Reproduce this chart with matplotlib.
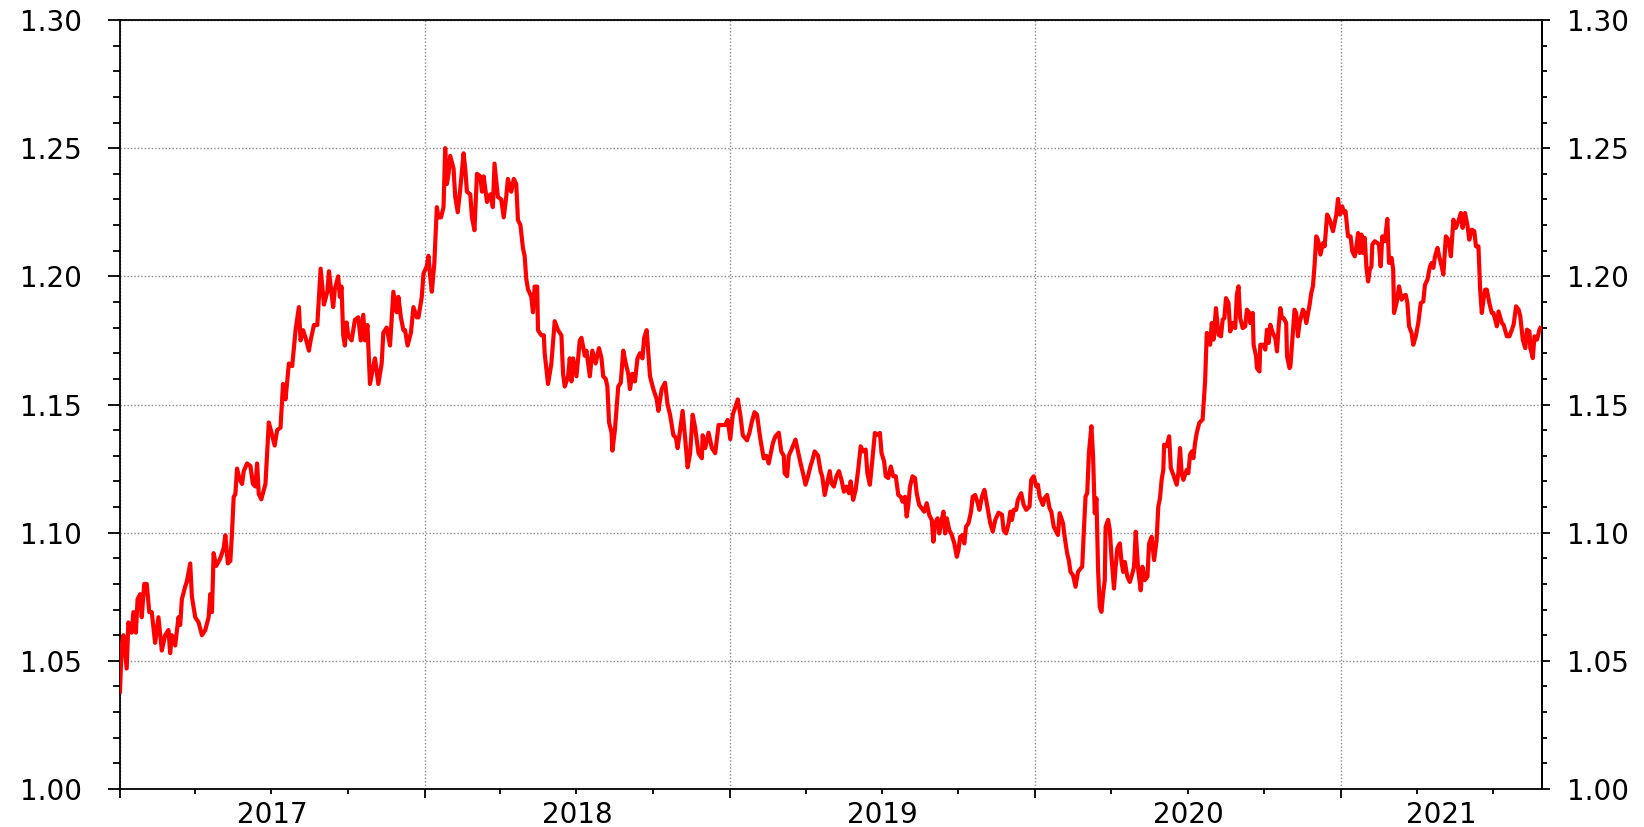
import numpy as np
import matplotlib
matplotlib.use("Agg")
import matplotlib.pyplot as plt
import matplotlib.dates as mdates
from matplotlib.ticker import MultipleLocator, FormatStrFormatter, NullFormatter

# Days since 2017-01-01 and EUR/USD-like rate
days = [
    0, 2, 4, 8, 10, 14, 16, 19, 21, 24, 26, 29, 32, 35, 38, 42, 46, 50, 54, 58,
    60, 62, 66, 70, 72, 74, 78, 80, 84, 86, 90, 94, 98, 102, 106, 108, 110, 112, 115, 120,
    124, 126, 129, 132, 134, 136, 138, 140, 143, 146, 148, 152, 156, 159, 162, 164, 166, 169, 174, 178,
    182, 185, 188, 192, 195, 198, 202, 206, 210, 214, 216, 219, 222, 226, 228, 232, 236, 240, 244, 248,
    250,
    255, 257, 261, 263, 265, 267, 269, 271, 273, 277, 281, 285, 288, 291, 293, 296, 299, 303, 305, 309,
    313, 315, 319, 323, 327, 331, 333, 336, 339, 341, 344, 348, 351, 355, 357, 361, 363, 367, 369, 371,
    373, 376, 379, 381, 384, 387, 389, 391, 393, 395, 399, 401, 404, 407, 411, 413, 415, 419, 421, 424,
    427, 431, 433, 435, 439, 443, 446, 448, 452, 456, 459, 462, 464, 468, 471, 474, 476, 479, 482, 484,
    486, 488, 492, 494, 496, 499, 500, 504, 507, 508, 512,
    516, 520, 524, 528, 530, 532, 536, 538, 540, 542, 546, 550, 552, 556, 558, 562, 565, 569, 573, 576,
    578, 581, 583, 585, 588, 589, 592, 596, 599, 602, 605, 608, 610, 613, 616, 619, 622, 625, 627, 630,
    634, 638, 642, 644, 648, 652, 655, 658, 662, 665, 667, 670, 673, 676, 679, 682, 685, 688, 692, 696,
    697, 700, 704, 708, 712, 716, 720, 724, 727, 730, 733, 736, 739, 742, 745, 750, 753, 756, 759, 762,
    766, 770, 773, 776,
    781, 784, 788, 791, 794, 795, 798, 800, 804, 808, 811, 814, 817, 820, 823, 826, 828, 831, 835, 838,
    840, 843, 846, 849, 851, 854, 857, 860, 863, 866, 869, 872, 874, 877, 880, 883, 886, 889, 892, 894,
    897, 900, 903, 906, 909, 911, 914, 916, 919, 922, 925, 928, 931, 934, 936, 939, 941, 943, 945, 948,
    951, 953, 956, 959, 962, 965, 968, 971, 973, 975, 978, 980, 983, 985, 987, 989, 992, 995, 998, 1001,
    1003, 1005, 1008, 1010, 1012, 1015, 1018, 1020, 1023, 1026, 1028, 1031, 1034,
    1041, 1044, 1047, 1051, 1055, 1057, 1060, 1063, 1065, 1067, 1069, 1072, 1074, 1078, 1081, 1084, 1088, 1090, 1093, 1096,
    1098, 1100, 1104, 1106, 1109, 1112, 1114, 1117, 1120, 1122, 1124, 1128, 1130, 1133, 1135, 1137, 1140, 1143, 1146, 1149,
    1151, 1153, 1155, 1157, 1159, 1162, 1164, 1166, 1168, 1170, 1172, 1174, 1176, 1178, 1179, 1182, 1184, 1186, 1189, 1191,
    1193, 1196, 1198, 1200, 1202, 1205, 1208, 1211, 1213, 1215, 1218, 1221, 1223, 1226, 1229, 1231, 1234, 1237, 1240, 1242,
    1244, 1246, 1248, 1249, 1252, 1255, 1257, 1260, 1264, 1266, 1268, 1270, 1272, 1276, 1278, 1280, 1282, 1284, 1286, 1288,
    1291, 1293, 1295,
    1298, 1300, 1302, 1304, 1306, 1308, 1311, 1314, 1317, 1319, 1321, 1323, 1326, 1328, 1331, 1334, 1336, 1338, 1340, 1343,
    1346, 1348, 1351, 1352, 1355, 1356, 1359, 1360, 1363, 1364, 1368, 1370, 1372, 1374, 1376, 1379, 1382, 1384, 1386, 1388,
    1390, 1392, 1395, 1396, 1399, 1400, 1403, 1405, 1407, 1409, 1411, 1415, 1417, 1419, 1423, 1425, 1427, 1429, 1431, 1433,
    1436, 1439, 1441, 1444, 1447, 1451, 1453, 1455, 1457, 1459, 1462, 1464, 1466, 1469, 1472, 1474, 1477, 1479, 1481, 1483,
    1485, 1487, 1489, 1491, 1493, 1495, 1497, 1498, 1501, 1504, 1506, 1508, 1510, 1513, 1516, 1518, 1521, 1523, 1524, 1527,
    1530,
    1533, 1535, 1538, 1540, 1542, 1545, 1547, 1550, 1553, 1556, 1559, 1561, 1564, 1567, 1569, 1571, 1573, 1576, 1578, 1581,
    1583, 1586, 1589, 1592, 1595, 1598, 1601, 1604, 1606, 1609, 1612, 1614, 1617, 1620, 1622, 1625, 1627, 1629, 1631, 1633,
    1635, 1638, 1641, 1643, 1647, 1649, 1653, 1655, 1659, 1662, 1665, 1667, 1670, 1673, 1675, 1678, 1681, 1683, 1686, 1687,
    1690, 1692, 1695, 1698, 1699,
]
rate = [
    1.038, 1.056, 1.060, 1.047, 1.065, 1.061, 1.069, 1.061, 1.074, 1.076, 1.067, 1.080, 1.080, 1.069, 1.069, 1.057, 1.067, 1.054, 1.060, 1.062,
    1.053, 1.060, 1.056, 1.067, 1.064, 1.074, 1.079, 1.081, 1.088, 1.075, 1.067, 1.065, 1.060, 1.062, 1.067, 1.076, 1.069, 1.092, 1.087, 1.090,
    1.094, 1.099, 1.088, 1.089, 1.100, 1.114, 1.115, 1.125, 1.121, 1.119, 1.124, 1.127, 1.126, 1.119, 1.118, 1.127, 1.115, 1.113, 1.119, 1.143,
    1.138, 1.134, 1.140, 1.141, 1.158, 1.152, 1.166, 1.165, 1.179, 1.188, 1.175, 1.179, 1.176, 1.171, 1.175, 1.181, 1.181, 1.203, 1.189, 1.194,
    1.202,
    1.188, 1.195, 1.200, 1.192, 1.196, 1.177, 1.173, 1.182, 1.177, 1.175, 1.183, 1.184, 1.175, 1.185, 1.175, 1.181, 1.158, 1.165, 1.168, 1.158,
    1.166, 1.178, 1.180, 1.173, 1.194, 1.186, 1.192, 1.184, 1.179, 1.179, 1.173, 1.178, 1.188, 1.184, 1.184, 1.192, 1.201, 1.204, 1.208, 1.200,
    1.194, 1.205, 1.227, 1.223, 1.223, 1.227, 1.250, 1.236, 1.240, 1.247, 1.242, 1.231, 1.225, 1.234, 1.248, 1.242, 1.233, 1.232, 1.223, 1.218,
    1.240, 1.239, 1.233, 1.239, 1.229, 1.232, 1.227, 1.244, 1.231, 1.230, 1.223, 1.231, 1.238, 1.233, 1.238, 1.236, 1.222, 1.220, 1.211, 1.208,
    1.199, 1.195, 1.192, 1.186, 1.196, 1.196, 1.179, 1.177, 1.177, 1.170, 1.158,
    1.166, 1.1825, 1.179, 1.177, 1.162, 1.157, 1.161, 1.168, 1.159, 1.168, 1.161, 1.175, 1.176, 1.169, 1.171, 1.161, 1.171, 1.166, 1.172, 1.168,
    1.161, 1.160, 1.157, 1.143, 1.139, 1.132, 1.140, 1.157, 1.1585, 1.171, 1.166, 1.162, 1.156, 1.162, 1.159, 1.168, 1.170, 1.168, 1.176, 1.179,
    1.161, 1.156, 1.152, 1.1475, 1.156, 1.1585, 1.150, 1.146, 1.138, 1.137, 1.133, 1.140, 1.1475, 1.137, 1.1255, 1.131, 1.146, 1.141, 1.131, 1.129,
    1.138, 1.133, 1.139, 1.133, 1.131, 1.142, 1.142, 1.142, 1.144, 1.1365, 1.146, 1.149, 1.152, 1.146, 1.138, 1.136, 1.139, 1.1435, 1.147, 1.146,
    1.1365, 1.129, 1.130, 1.127,
    1.135, 1.1376, 1.139, 1.1317, 1.130, 1.1232, 1.122, 1.130, 1.133, 1.1363, 1.1317, 1.1272, 1.1232, 1.1187, 1.122, 1.126, 1.128, 1.1317, 1.130, 1.124,
    1.122, 1.1147, 1.1193, 1.124, 1.1193, 1.118, 1.122, 1.124, 1.1206, 1.116, 1.118, 1.1154, 1.120, 1.1128, 1.1167, 1.1245, 1.1337, 1.1317, 1.1324, 1.1232,
    1.1187, 1.1285, 1.1389, 1.1382, 1.1389, 1.131, 1.1278, 1.122, 1.1213, 1.1258, 1.122, 1.122, 1.1147, 1.114, 1.1121, 1.114, 1.1063, 1.1108, 1.118, 1.122,
    1.1213, 1.1154, 1.1108, 1.1095, 1.1082, 1.1115, 1.1069, 1.105, 1.0965, 1.1037, 1.1056, 1.0997, 1.105, 1.1082, 1.0997, 1.1056, 1.101, 1.0991, 1.0958, 1.0906,
    1.0932, 1.0984, 1.0991, 1.0958, 1.1023, 1.1037, 1.1082, 1.114, 1.1147, 1.1115, 1.1089, 1.114, 1.1167,
    1.1037, 1.1004, 1.105, 1.1078, 1.107, 1.101, 1.0997, 1.1037, 1.1082, 1.105, 1.1089, 1.1089, 1.1128, 1.1154, 1.1108, 1.1089, 1.1102, 1.1206, 1.122, 1.118,
    1.1187, 1.1141, 1.1108, 1.1134, 1.1147, 1.1095, 1.1082, 1.1023, 1.1004, 1.0991, 1.1076, 1.1037, 1.0984, 1.0919, 1.0893, 1.0847, 1.0834, 1.0789, 1.0847, 1.086,
    1.0867, 1.101, 1.1141, 1.1154, 1.1311, 1.1415, 1.1298, 1.1076, 1.1134, 1.0854, 1.071, 1.0691, 1.0762, 1.0815, 1.1023, 1.105, 1.101, 1.0906, 1.0782, 1.0867,
    1.0939, 1.0958, 1.0886, 1.0847, 1.0886, 1.0828, 1.0808, 1.0841, 1.0867, 1.1004, 1.0854, 1.0775, 1.0867, 1.0815, 1.0828, 1.0958, 1.0984, 1.0893, 1.0971, 1.1102,
    1.1134, 1.1206, 1.1245, 1.1343, 1.1337, 1.1376, 1.1252, 1.1226, 1.1187, 1.1232, 1.133, 1.1232, 1.1206, 1.1245, 1.1232, 1.1304, 1.1317, 1.1291, 1.135, 1.1389,
    1.1428, 1.1435, 1.1441,
    1.159, 1.1779, 1.1772, 1.1733, 1.1818, 1.1753, 1.1876, 1.1772, 1.1766, 1.1831, 1.1837, 1.1915, 1.1896, 1.1785, 1.1818, 1.1798, 1.1928, 1.1961, 1.1837, 1.1798,
    1.1805, 1.187, 1.1857, 1.1818, 1.1857, 1.1733, 1.1688, 1.1642, 1.1629, 1.1733, 1.1733, 1.1714, 1.1792, 1.174, 1.1811, 1.1779, 1.1759, 1.1707, 1.1805, 1.1876,
    1.1837, 1.1837, 1.1818, 1.1688, 1.1642, 1.1648, 1.1779, 1.187, 1.1857, 1.1766, 1.1818, 1.187, 1.1857, 1.1818, 1.1889, 1.1935, 1.1961, 1.2046, 1.2156, 1.2143,
    1.2085, 1.213, 1.2117, 1.2241, 1.2221, 1.2176, 1.2208, 1.2241, 1.2302, 1.2241, 1.2273, 1.2247, 1.2254, 1.2156, 1.2156, 1.2098, 1.2078, 1.2117, 1.2169, 1.2091,
    1.2163, 1.2091, 1.215, 1.2033, 1.198, 1.2026, 1.2039, 1.2124, 1.2137, 1.213, 1.2124, 1.2039, 1.2156, 1.2137, 1.2224, 1.2052, 1.2072, 1.2026, 1.1857, 1.1896,
    1.1961,
    1.1909, 1.1922, 1.1928, 1.1896, 1.1805, 1.1779, 1.1733, 1.1766, 1.1818, 1.1896, 1.1902, 1.1967, 1.1987, 1.2039, 1.2052, 1.2033, 1.2078, 1.2111, 1.2078, 1.2039,
    1.2007, 1.2156, 1.2143, 1.2078, 1.2221, 1.2189, 1.2215, 1.2247, 1.2189, 1.2247, 1.2195, 1.2143, 1.2182, 1.2176, 1.2117, 1.2117, 1.1948, 1.1857, 1.1909, 1.1948,
    1.1948, 1.1896, 1.1857, 1.1857, 1.1805, 1.1863, 1.1818, 1.1811, 1.1766, 1.1766, 1.1792, 1.1811, 1.1883, 1.187, 1.1844, 1.1753, 1.172, 1.1792, 1.1785, 1.172,
    1.1681, 1.1766, 1.1753, 1.1792, 1.1798,
]

start_date = np.datetime64("2017-01-01")
axis_end_day = 1701
year_labels = ["2017", "2018", "2019", "2020", "2021"]
y_ticks = [1.00, 1.05, 1.10, 1.15, 1.20, 1.25, 1.30]

dates = start_date + np.array(days).astype("timedelta64[D]")

plt.rcParams["font.family"] = ["DejaVu Sans"]
fig = plt.figure(figsize=(16.44, 8.27), dpi=100)
ax = fig.add_axes([120 / 1644, 1 - 789 / 827, (1542 - 120) / 1644, (789 - 20) / 827])

ax.plot(dates, rate, color="#ff0000", linewidth=3.0, solid_joinstyle="round", zorder=3)

x0 = mdates.date2num(start_date)
x1 = mdates.date2num(start_date + np.timedelta64(axis_end_day, "D"))
ax.set_xlim(x0, x1)
ax.set_ylim(1.0, 1.3)

# x axis: years major, quarters minor
ax.xaxis.set_major_locator(mdates.YearLocator())
ax.xaxis.set_minor_locator(mdates.MonthLocator(bymonth=[4, 7, 10]))
ax.xaxis.set_major_formatter(NullFormatter())
ax.tick_params(axis="x", which="major", length=6.5, width=1.3, direction="out", colors="black")
ax.tick_params(axis="x", which="minor", length=3.6, width=1.3, direction="out")

# year labels centred on visible part of each year
for lab in year_labels:
    ys = mdates.date2num(np.datetime64(f"{lab}-01-01"))
    ye = mdates.date2num(np.datetime64(f"{int(lab) + 1}-01-01"))
    ys, ye = max(ys, x0), min(ye, x1)
    ax.annotate(lab, xy=((ys + ye) / 2, 0), xycoords=("data", "axes fraction"),
                xytext=(0, -8.5), textcoords="offset points", ha="center", va="top",
                fontsize=20, color="black")

# y axis
ax.yaxis.set_major_locator(MultipleLocator(0.05))
ax.yaxis.set_minor_locator(MultipleLocator(0.01))
ax.yaxis.set_major_formatter(FormatStrFormatter("%.2f"))
ax.set_yticks(y_ticks)
ax.tick_params(axis="y", which="major", length=8.6, width=1.3, pad=19, labelsize=20, direction="out")
ax.tick_params(axis="y", which="minor", length=5, width=1.3, direction="out")

sec = ax.secondary_yaxis("right")
sec.set_yticks(y_ticks)
sec.yaxis.set_minor_locator(MultipleLocator(0.01))
sec.yaxis.set_major_formatter(FormatStrFormatter("%.2f"))
sec.tick_params(axis="y", which="major", length=5.8, width=1.3, pad=12, labelsize=20, direction="out")
sec.tick_params(axis="y", which="minor", length=3.6, width=1.3, direction="out")
sec.spines["right"].set_linewidth(1.3)

for s in ax.spines.values():
    s.set_linewidth(1.3)
    s.set_color("black")

ax.grid(True, which="major", axis="both", color="#8a8a8a", linestyle=(0, (1, 1.5)), linewidth=1.0)
ax.set_axisbelow(True)

fig.savefig("out.png", dpi=100, facecolor="white")
